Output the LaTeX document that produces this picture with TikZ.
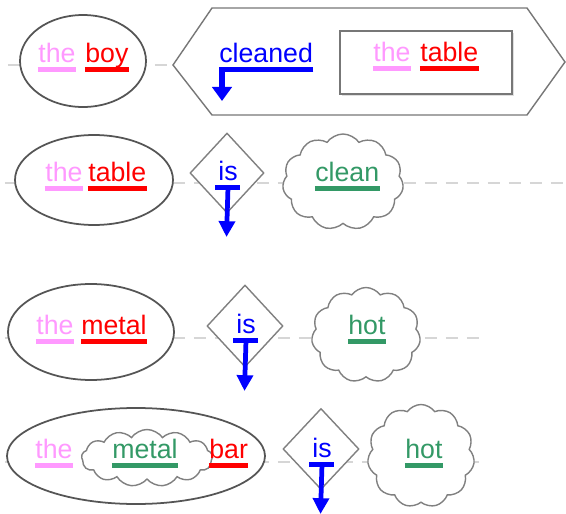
\documentclass[tikz,border=0pt]{standalone}
\usepackage{fontspec}
\setmainfont{Liberation Sans}
\usetikzlibrary{calc,arrows.meta,shapes.geometric,shapes.symbols,shadows}
\definecolor{wpink}{HTML}{FF99FF}
\definecolor{wred}{HTML}{FF0000}
\definecolor{wblue}{HTML}{0000FF}
\definecolor{wgreen}{HTML}{339966}
\definecolor{edgegray}{HTML}{808080}
\definecolor{darkgray}{HTML}{555555}
\definecolor{guidegray}{HTML}{D6D6D6}
\def\px{0.02cm}
\def\wbar[#1](#2){\draw[ubar,#1] ($(#2.base west)+(0,7.5)$) -- ($(#2.base east)+(0,7.5)$);}
\def\tbar(#1)(#2){\draw[ubar,wblue] ($(#1.base)+(-12.5,7.5)$) -- ($(#1.base)+(12.5,7.5)$);
	\draw[isarrow] ($(#1.base)+(0,7.5)$) -- (#2);}

\tikzset{
	word/.style={inner sep=0pt, anchor=base west, font=\fontsize{15.2}{18}\selectfont},
	ubar/.style={line width=3.4pt},
	guide/.style={guidegray, line width=0.9pt, dash pattern=on 12*\px off 9*\px},
	blob/.style={draw=edgegray, line width=0.8pt, fill=white, inner sep=0pt},
	npblob/.style={blob, ellipse, draw=darkgray, line width=1pt},
	isarrow/.style={wblue, line width=2.7pt, -{Triangle[width=9pt,length=9pt]}},
}

\begin{document}
\begin{tikzpicture}[x=\px, y=-\px]
		%%%%% START %%%%%
		\useasboundingbox (0, 0) rectangle (566, 514);
		
		% guide lines
		\draw[guide] (8, 65) -- (175, 65);
		\draw[guide] (5, 183) -- (566, 183);
		\draw[guide] (5, 338) -- (482, 338);
		\draw[guide] (5, 462) -- (480, 462);
		
		% row 1
		\node[npblob, minimum width=126*\px, minimum height=92*\px] (np1) at (83, 61) {};
		\draw[blob, draw=darkgray!80] (173, 65) -- (212, 8) -- (527, 8) -- (565, 62) -- (527, 115) -- (212, 115) -- cycle;
		\node[blob, rectangle, draw=darkgray!80, minimum width=172*\px, minimum height=63*\px,
			drop shadow={opacity=0.25, shadow xshift=1.2pt, shadow yshift=-1.2pt}] (objbox) at (426, 62.5) {};
		
		\node[word, wpink] (the1) at (38, 62) {the};
		\node[word, wred] (boy) at (85, 62) {boy};
		\node[word, wblue] (cleaned) at (219, 62) {cleaned};
		\node[word, wpink] (the2) at (373, 61) {the};
		\node[word, wred] (table1) at (420, 61) {table};
		\wbar[wpink](the1)
		\wbar[wred](boy)
		\wbar[wpink](the2)
		\wbar[wred](table1)
		\coordinate (cltip) at (222, 101);
		\draw[ubar, wblue, -{Triangle[width=11pt,length=8pt]}] ($(cleaned.base east)+(0,7.5)$) -| (cltip);
		
		% row 2
		\node[npblob, minimum width=158*\px, minimum height=90*\px] (np2) at (94, 180) {};
		\node[blob, diamond, minimum width=74*\px, minimum height=80*\px] (cop2) at (227, 173) {};
		\node[blob, cloud, cloud puffs=11, cloud puff arc=110, minimum width=121*\px, minimum height=96*\px] (adj2) at (343, 182) {};
		
		\node[word, wpink] (the3) at (45, 181) {the};
		\node[word, wred] (table2) at (88, 181) {table};
		\node[word, wblue] (is2) at (218, 180) {is};
		\node[word, wgreen] (clean) at (315, 181) {clean};
		\wbar[wpink](the3)
		\wbar[wred](table2)
		\wbar[wgreen](clean)
		\coordinate (is2tip) at (226.5, 237);
		\tbar(is2)(is2tip)
		
		% row 3
		\node[npblob, minimum width=166*\px, minimum height=96*\px] (np3) at (91, 332) {};
		\node[blob, diamond, minimum width=76*\px, minimum height=82*\px] (cop3) at (245, 326) {};
		\node[blob, cloud, cloud puffs=11, cloud puff arc=110, minimum width=109*\px, minimum height=95*\px] (adj3) at (366, 335) {};
		
		\node[word, wpink] (the4) at (36, 334) {the};
		\node[word, wred] (metal1) at (81, 334) {metal};
		\node[word, wblue] (is3) at (236, 333) {is};
		\node[word, wgreen] (hot1) at (348, 334) {hot};
		\wbar[wpink](the4)
		\wbar[wred](metal1)
		\wbar[wgreen](hot1)
		\coordinate (is3tip) at (244.5, 391);
		\tbar(is3)(is3tip)
		
		% row 4
		\node[npblob, minimum width=258*\px, minimum height=96*\px] (np4) at (136, 456) {};
		\node[blob, cloud, cloud puffs=13, cloud puff arc=110, minimum width=131*\px, minimum height=57*\px] (mod4) at (147, 458) {};
		\node[blob, diamond, minimum width=76*\px, minimum height=81*\px] (cop4) at (321, 449) {};
		\node[blob, cloud, cloud puffs=11, cloud puff arc=110, minimum width=107*\px, minimum height=103*\px] (adj4) at (421, 456) {};
		
		\node[word, wpink] (the5) at (35, 458) {the};
		\node[word, wgreen] (metal2) at (112, 458) {metal};
		\node[word, wred] (bar) at (209, 458) {bar};
		\node[word, wblue] (is4) at (312, 457) {is};
		\node[word, wgreen] (hot2) at (405, 458) {hot};
		\wbar[wpink](the5)
		\wbar[wgreen](metal2)
		\wbar[wred](bar)
		\wbar[wgreen](hot2)
		\coordinate (is4tip) at (320.5, 514);
		\tbar(is4)(is4tip)
		
		%%%%% END %%%%%
	\end{tikzpicture}
\end{document}
